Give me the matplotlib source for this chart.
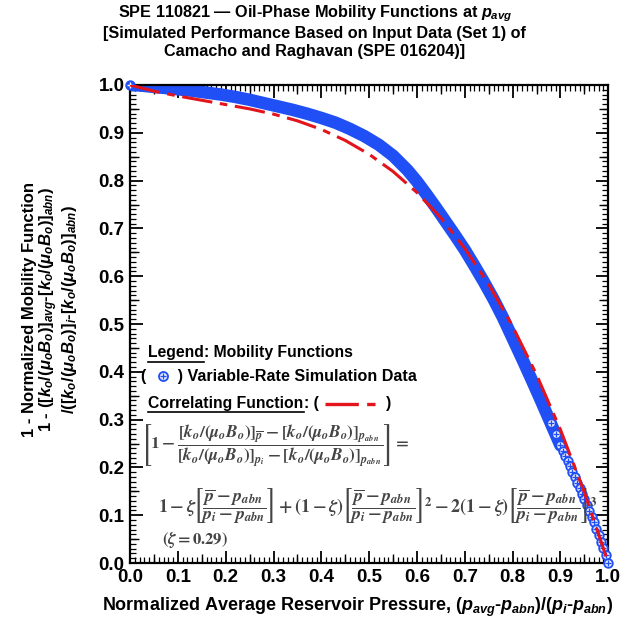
import matplotlib
matplotlib.use('Agg')
import matplotlib.pyplot as plt
import numpy as np
from matplotlib.ticker import MultipleLocator

# ------------------------------------
# data
# ------------------------------------
# variable-rate simulation data, normalized average pressure vs 1 - normalized mobility
sim_x = [0.0, 0.02, 0.04, 0.06, 0.08, 0.10, 0.13, 0.16, 0.19, 0.22, 0.25, 0.28, 0.31,
         0.34, 0.37, 0.40, 0.43, 0.46, 0.49, 0.52, 0.55, 0.58, 0.60, 0.62, 0.64, 0.66,
         0.68, 0.70, 0.72, 0.74, 0.76, 0.78, 0.80, 0.82, 0.84, 0.86, 0.88, 0.89, 0.90,
         0.905, 0.91, 0.915, 0.92, 0.925, 0.93, 0.935, 0.94, 0.945, 0.95, 0.955, 0.96,
         0.965, 0.97, 0.975, 0.98, 0.985, 0.99, 0.995, 1.0]
sim_y = [1.000, 0.999, 0.997, 0.995, 0.993, 0.991, 0.988, 0.984, 0.980, 0.975, 0.969,
         0.962, 0.955, 0.948, 0.940, 0.931, 0.921, 0.908, 0.893, 0.875, 0.852, 0.822,
         0.798, 0.771, 0.743, 0.714, 0.685, 0.655, 0.622, 0.588, 0.552, 0.513, 0.470,
         0.427, 0.383, 0.338, 0.292, 0.269, 0.246, 0.235, 0.224, 0.213, 0.202, 0.190,
         0.179, 0.167, 0.156, 0.144, 0.133, 0.121, 0.109, 0.097, 0.085, 0.072, 0.059,
         0.045, 0.031, 0.016, 0.000]

# correlating function (zeta = 0.29)
fit_x = [0.0, 0.05, 0.10, 0.15, 0.20, 0.25, 0.30, 0.35, 0.40, 0.45, 0.50, 0.55, 0.60,
         0.65, 0.70, 0.75, 0.80, 0.85, 0.90, 0.95, 1.0]
fit_y = [1.000, 0.987, 0.977, 0.968, 0.959, 0.950, 0.939, 0.925, 0.907, 0.884, 0.855,
         0.819, 0.775, 0.722, 0.658, 0.583, 0.495, 0.394, 0.279, 0.148, 0.000]

x_ticks = [0.0, 0.1, 0.2, 0.3, 0.4, 0.5, 0.6, 0.7, 0.8, 0.9, 1.0]
y_ticks = [0.0, 0.1, 0.2, 0.3, 0.4, 0.5, 0.6, 0.7, 0.8, 0.9, 1.0]

# ------------------------------------
# style
# ------------------------------------
plt.rcParams.update({
    'font.family': 'Liberation Sans',
    'font.weight': 'bold',
    'mathtext.fontset': 'custom',
    'mathtext.rm': 'Liberation Sans:bold',
    'mathtext.it': 'Liberation Sans:bold:italic',
    'mathtext.bf': 'Liberation Sans:bold',
    'axes.linewidth': 1.6,
})

blue = '#1f4ff5'
red = '#e3141c'

fig = plt.figure(figsize=(6.21, 6.24), dpi=100)
ax = fig.add_axes([0.2095, 0.0977, 0.770, 0.7661])

# data: dense overlapping markers form a solid band, open markers in the tail
sx = np.array(sim_x)
sy = np.array(sim_y)
band = sx <= 0.9
tail = sx >= 0.88
ax.plot(sx[band], sy[band], color=blue, lw=9, solid_capstyle='round', zorder=2)
ax.plot(sx[tail], sy[tail], 'o', ms=6.2, mfc='#e4eaff', mec=blue, mew=1.3, zorder=3,
        clip_on=False)
ax.plot(sx[tail], sy[tail], '+', ms=4, color=blue, mew=0.9, zorder=4, clip_on=False)
ax.plot(sx[:1], sy[:1], 'o', ms=6.5, mfc=blue, mec=blue, zorder=4, clip_on=False)
ax.plot(sx[:1], sy[:1], '+', ms=4, color='white', mew=1.0, zorder=5, clip_on=False)

ax.plot(fit_x, fit_y, color=red, lw=2.2, dashes=(10, 2.5, 2.5, 2.5), zorder=5)

ax.set_xlim(0, 1)
ax.set_ylim(0, 1)
ax.set_xticks(x_ticks)
ax.set_yticks(y_ticks)
ax.xaxis.set_minor_locator(MultipleLocator(0.01))
ax.yaxis.set_minor_locator(MultipleLocator(0.01))
ax.tick_params(which='both', direction='in', top=True, right=True, labelsize=13.5, pad=4)
ax.tick_params(which='major', length=9, width=1.3)
ax.tick_params(which='minor', length=4, width=0.9)
ax.set_xticklabels([f'{t:.1f}' for t in x_ticks], fontweight='bold')
ax.set_yticklabels([f'{t:.1f}' for t in y_ticks], fontweight='bold')

# medium ticks at the 0.05 marks
mid = [0.05, 0.15, 0.25, 0.35, 0.45, 0.55, 0.65, 0.75, 0.85, 0.95]
for side in ['bottom', 'top']:
    sec = ax.secondary_xaxis(side)
    sec.set_xticks(mid)
    sec.tick_params(direction='in', length=6.5, width=1.0, labelbottom=False, labeltop=False)
    sec.spines[side].set_visible(False)
for side in ['left', 'right']:
    sec = ax.secondary_yaxis(side)
    sec.set_yticks(mid)
    sec.tick_params(direction='in', length=6.5, width=1.0, labelleft=False, labelright=False)
    sec.spines[side].set_visible(False)

ax.set_xlabel(r'Normalized Average Reservoir Pressure, ($p_{avg}$-$p_{abn}$)/($p_i$-$p_{abn}$)',
              fontsize=13, fontweight='bold')
ax.xaxis.set_label_coords(0.475, -0.068)
ax.set_ylabel('1 - Normalized Mobility Function\n'
              r'1 - ([$k_o$/($\mu_o$$B_o$)]$_{avg}$-[$k_o$/($\mu_o$$B_o$)]$_{abn}$)' '\n'
              r'/([$k_o$/($\mu_o$$B_o$)]$_i$-[$k_o$/($\mu_o$$B_o$)]$_{abn}$)',
              fontsize=12, fontweight='bold', linespacing=1.0)
ax.yaxis.set_label_coords(-0.107, 0.53)

fig.suptitle('SPE 110821 \u2014 Oil-Phase Mobility Functions at $p_{avg}$\n'
             '[Simulated Performance Based on Input Data (Set 1) of\n'
             'Camacho and Raghavan (SPE 016204)]',
             x=0.507, y=0.995, fontsize=11.7, fontweight='bold', linespacing=1.2)

# legend block inside the axes
t_leg = ax.text(0.038, 0.43, 'Legend', transform=ax.transAxes,
                fontsize=11.3, fontweight='bold', va='baseline')
t_cor = ax.text(0.038, 0.325, 'Correlating Function', transform=ax.transAxes,
                fontsize=11.3, fontweight='bold', va='baseline')
fig.canvas.draw()
r = fig.canvas.get_renderer()
inv = ax.transAxes.inverted()
for t, rest in [(t_leg, ': Mobility Functions'), (t_cor, ': (')]:
    bb = t.get_window_extent(r)
    (x0, _), (x1, _) = inv.transform([[bb.x0, bb.y0], [bb.x1, bb.y1]])
    y = t.get_position()[1]
    ax.plot([x0, x1], [y - 0.009, y - 0.009], color='black', lw=1.2, transform=ax.transAxes)
    ax.text(x1, y, rest, transform=ax.transAxes, fontsize=11.3, fontweight='bold', va='baseline')
ax.text(0.535, 0.325, ')', transform=ax.transAxes, fontsize=11.3, fontweight='bold',
        va='baseline')

ax.text(0.022, 0.39, '(       ) Variable-Rate Simulation Data', transform=ax.transAxes,
        fontsize=11.6, fontweight='bold', va='center')
ax.plot([0.068], [0.392], 'o', ms=6.5, mfc='#e4eaff', mec=blue, mew=1.3, transform=ax.transAxes)
ax.plot([0.068], [0.392], '+', ms=4, color=blue, mew=0.9, transform=ax.transAxes)
ax.plot([0.408, 0.52], [0.333, 0.333], color=red, lw=2.4, dashes=(10, 2.5, 2.5, 2.5),
        transform=ax.transAxes)

eq1 = (r'$\left[1-\dfrac{[k_o/(\mu_oB_o)]_{\overline{p}}-[k_o/(\mu_oB_o)]_{p_{abn}}}'
       r'{[k_o/(\mu_oB_o)]_{p_i}-[k_o/(\mu_oB_o)]_{p_{abn}}}\right]=$')
eq2 = (r'$1-\zeta\left[\dfrac{\overline{p}-p_{abn}}{p_i-p_{abn}}\right]'
       r'+(1-\zeta)\left[\dfrac{\overline{p}-p_{abn}}{p_i-p_{abn}}\right]^2'
       r'-2(1-\zeta)\left[\dfrac{\overline{p}-p_{abn}}{p_i-p_{abn}}\right]^3$')
eq3 = r'$(\zeta=0.29)$'
eq_style = dict(transform=ax.transAxes, va='center', math_fontfamily='stix',
                color='#444444', fontweight='normal')
ax.text(0.022, 0.245, eq1, fontsize=12.4, **eq_style)
ax.text(0.058, 0.121, eq2, fontsize=13, **eq_style)
ax.text(0.066, 0.048, eq3, fontsize=12, **eq_style)

fig.savefig('out.png', dpi=100)
